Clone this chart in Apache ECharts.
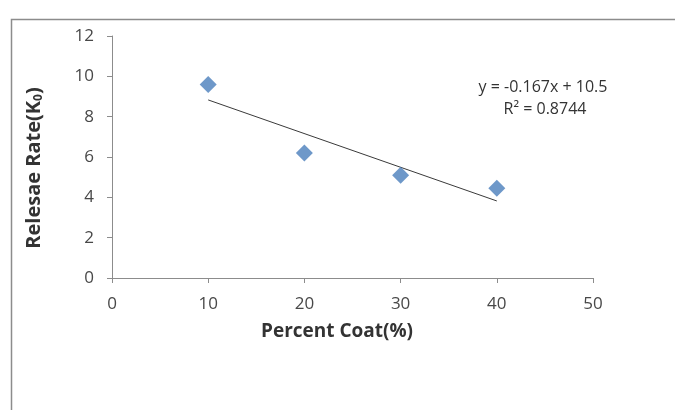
<!DOCTYPE html>
<html>
<head>
<meta charset="utf-8">
<script src="https://cdn.jsdelivr.net/npm/echarts@6/dist/echarts.min.js"></script>
<style>
html,body{margin:0;padding:0;background:#fff;}
#chart{width:675px;height:410px;}
</style>
</head>
<body>
<div id="chart"></div>
<script>
const percentCoat = [10, 20, 30, 40];
const releaseRate = [9.6, 6.2, 5.1, 4.45];
const trendX = [10, 40];
const trendY = [8.83, 3.82];
const xTicks = [0, 10, 20, 30, 40, 50];
const yTicks = [0, 2, 4, 6, 8, 10, 12];
const xTitle = 'Percent Coat(%)';
const yTitle = 'Relesae Rate(K{sub|0})';
const equationText = 'y = -0.167x + 10.5';
const r2Text = 'R² = 0.8744';

const FONT = '"Open Sans", Lato, sans-serif';
const chart = echarts.init(document.getElementById('chart'));
chart.setOption({
  animation: false,
  backgroundColor: '#fff',
  grid: { left: 112, right: 82, top: 36, bottom: 132 },
  xAxis: {
    type: 'value', min: xTicks[0], max: xTicks[xTicks.length - 1], interval: 10,
    axisLine: { show: true, lineStyle: { color: '#8c8c8c', width: 1 } },
    axisTick: { show: true, inside: false, length: 5, lineStyle: { color: '#8c8c8c' } },
    axisLabel: { fontFamily: FONT, fontSize: 17, color: '#484848', margin: 18 },
    splitLine: { show: false }
  },
  yAxis: {
    type: 'value', min: yTicks[0], max: yTicks[yTicks.length - 1], interval: 2,
    axisLine: { show: true, lineStyle: { color: '#8c8c8c', width: 1 } },
    axisTick: { show: true, inside: false, length: 5, lineStyle: { color: '#8c8c8c' } },
    axisLabel: { fontFamily: FONT, fontSize: 17, color: '#484848', margin: 18 },
    splitLine: { show: false }
  },
  series: [
    {
      type: 'line',
      data: trendX.map((x, i) => [x, trendY[i]]),
      symbol: 'none',
      lineStyle: { color: '#3a3a3a', width: 1 },
      z: 2
    },
    {
      type: 'scatter',
      data: percentCoat.map((x, i) => [x, releaseRate[i]]),
      symbol: 'diamond',
      symbolSize: [17, 17],
      itemStyle: { color: '#4a7ebb' },
      z: 3
    }
  ],
  graphic: [
    { type: 'rect', left: 9, top: 17, shape: { width: 700, height: 420 },
      style: { fill: 'none', stroke: '#8c8c8c', lineWidth: 1.5 }, silent: true },
    { type: 'text', x: 337, y: 332,
      style: { text: xTitle, font: 'bold 19px ' + FONT, fill: '#333', align: 'center', verticalAlign: 'middle' } },
    { type: 'text', x: 34, y: 168, rotation: Math.PI / 2,
      style: { text: yTitle, font: 'bold 20px ' + FONT, fill: '#333', align: 'center', verticalAlign: 'middle',
        rich: { sub: { font: 'bold 12px ' + FONT, fill: '#333', padding: [9, 0, 0, 0] } } } },
    { type: 'text', x: 543, y: 87,
      style: { text: equationText, font: '16px ' + FONT, fill: '#333', align: 'center', verticalAlign: 'middle' } },
    { type: 'text', x: 545, y: 109,
      style: { text: r2Text, font: '16px ' + FONT, fill: '#333', align: 'center', verticalAlign: 'middle' } }
  ]
});
</script>
</body>
</html>
